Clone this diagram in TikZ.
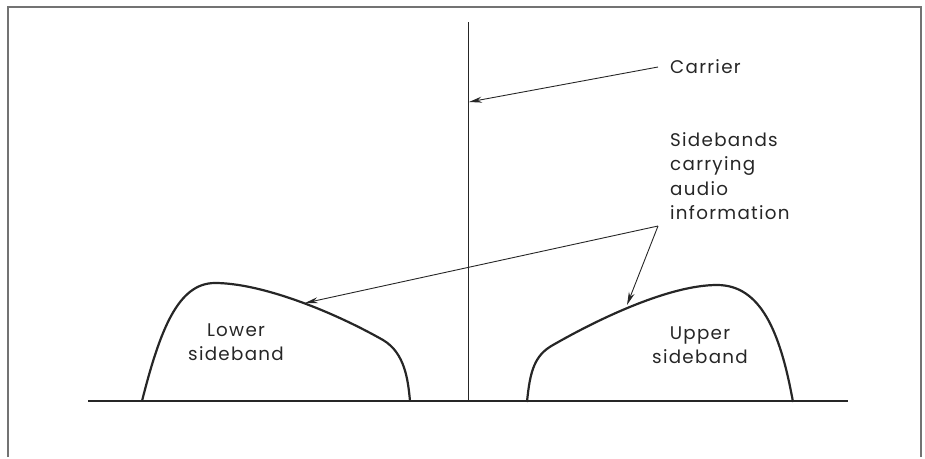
\documentclass[tikz,border=0pt]{standalone}
\usepackage{fontspec}
\setmainfont{Poppins}[LetterSpace=7]
\usetikzlibrary{arrows.meta}
\begin{document}
\begin{tikzpicture}[x=1pt,y=-1pt,
  lbl/.style={font=\fontsize{18.3}{24.5}\selectfont, inner sep=0pt, text=black!85},
  band/.style={line width=2.2pt, draw=black!85},
  ptr/.style={line width=0.9pt, draw=black!85, -{Stealth[length=13pt,width=6pt]}},
  frame/.style={line width=1.2pt, draw=black!55}]
\useasboundingbox (0,0) rectangle (925,458);
\draw[frame] (8,457) -- (8,7) -- (921,7) -- (921,457);
% baseline and carrier
\coordinate (bl) at (88,401);
\coordinate (br) at (848,401);
\draw[line width=1.4pt, draw=black!85] (bl) -- (br);
\coordinate (ctop) at (468,22);
\coordinate (cbot) at (468,401);
\draw[line width=0.8pt, draw=black!85] (ctop) -- (cbot);
% sidebands
\draw[band] (142,401) .. controls (160,330) and (178,283) .. (215,283)
  .. controls (260,283) and (330,310) .. (383,340)
  .. controls (405,353) and (408,380) .. (410,401);
\draw[band] (527,402) .. controls (530,370) and (535,355) .. (553,345)
  .. controls (600,318) and (670,285) .. (717,285)
  .. controls (760,285) and (780,330) .. (793,402);
% labels
\node[lbl, anchor=west] (carrier) at (670,67) {Carrier};
\node[lbl, anchor=north west, align=left] (sb) at (670,132) {Sidebands\\carrying\\audio\\information};
\node[lbl, align=center] (lower) at (236,342) {Lower\\sideband};
\node[lbl, align=center] (upper) at (700,345) {Upper\\sideband};
% arrows
\coordinate (ctip) at (469,102);
\path (carrier.west) ++(-12,0) coordinate (cst);
\draw[ptr] (cst) -- (ctip);
\coordinate (v) at (658,226);
\coordinate (ltip) at (305,303);
\coordinate (utip) at (627,305);
\draw[ptr] (v) -- (ltip);
\draw[ptr] (v) -- (utip);
\end{tikzpicture}
\end{document}
